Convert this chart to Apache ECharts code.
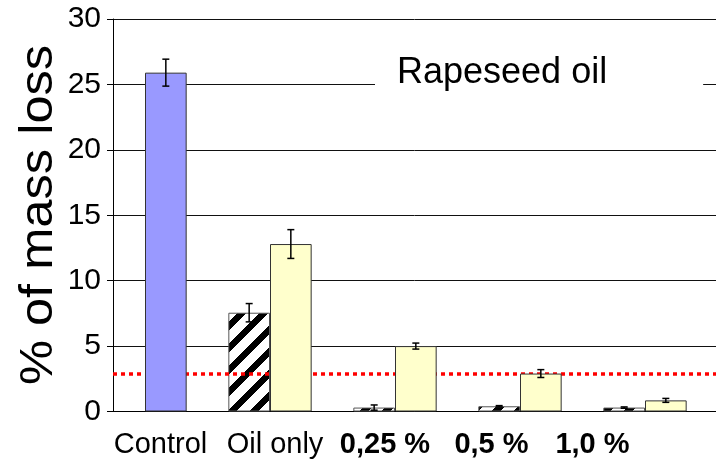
<!DOCTYPE html>
<html><head><meta charset="utf-8">
<script src="https://cdn.jsdelivr.net/npm/echarts@6/dist/echarts.min.js"></script>
<style>html,body{margin:0;padding:0;background:#fff}#c{width:716px;height:472px}</style>
</head><body><div id="c"></div>
<script>
// ---- data ----
const categories = ['Control', 'Oil only', '0,25 %', '0,5 %', '1,0 %'];
const boldCategory = [false, false, true, true, true];
const oilOnlyValues = [null, 7.55, 0.3, 0.4, 0.3];
const oilOnlyErrors = [null, 0.7, 0.2, 0.05, 0.05];
const treatedValues = [25.9, 12.8, 5.0, 2.9, 0.85];
const treatedErrors = [1.03, 1.1, 0.23, 0.3, 0.15];
const thresholdValue = 2.9;
const yMin = 0, yMax = 30, yStep = 5;
const panelTitle = 'Rapeseed oil';
const yAxisTitle = '% of mass loss';

// ---- layout / style ----
const labelPositions = [1.124, 2.04, 2.92, 3.772, 4.58];
const BAR_W = 41.67;
const FONT = 'Liberation Sans, Arial, sans-serif';

function hatchPattern() {
  const P = 22, c = document.createElement('canvas');
  c.width = P; c.height = P;
  const ctx = c.getContext('2d');
  const img = ctx.createImageData(P, P);
  for (let y = 0; y < P; y++) for (let x = 0; x < P; x++) {
    const k = (y * P + x) * 4;
    const black = ((x + y) % P) < 9;
    const v = black ? 0 : 255;
    img.data[k] = v; img.data[k + 1] = v; img.data[k + 2] = v; img.data[k + 3] = 255;
  }
  ctx.putImageData(img, 0, 0);
  return c;
}

const groupX = categories.map((_, i) => i + 1);
const hatchData = [], treatData = [], errData = [];
categories.forEach((_, i) => {
  if (oilOnlyValues[i] != null) {
    hatchData.push([groupX[i], oilOnlyValues[i]]);
    errData.push([groupX[i], oilOnlyValues[i], oilOnlyErrors[i], -1]);
  }
  treatData.push(i === 0
    ? { value: [groupX[i], treatedValues[i]], itemStyle: { color: '#9999ff' } }
    : [groupX[i], treatedValues[i]]);
  errData.push([groupX[i], treatedValues[i], treatedErrors[i], 1]);
});

const chart = echarts.init(document.getElementById('c'), null, { renderer: 'canvas' });
chart.setOption({
  animation: false,
  backgroundColor: '#fff',
  title: {
    text: panelTitle, left: 375, top: 45,
    backgroundColor: '#fff',
    padding: [10, 96, 12, 22],
    textStyle: { fontFamily: FONT, fontSize: 36, fontWeight: 'normal', color: '#000' }
  },
  graphic: [{
    type: 'text', x: 39, y: 215, rotation: Math.PI / 2, scaleX: 1.1,
    style: { text: yAxisTitle, font: '46px "Liberation Sans", Arial, sans-serif', fill: '#000', align: 'center', verticalAlign: 'middle' }
  }],
  grid: { left: 113, right: 0, top: 19, bottom: 60.5, containLabel: false, outerBoundsMode: 'none' },
  xAxis: {
    type: 'value', min: 0.744, max: 5.568,
    splitLine: { show: false },
    axisTick: { show: false },
    axisLine: { show: true, lineStyle: { color: '#000', width: 1 } },
    axisLabel: {
      customValues: labelPositions,
      margin: 19,
      formatter: (v) => {
        let best = 0;
        labelPositions.forEach((p, i) => { if (Math.abs(p - v) < Math.abs(labelPositions[best] - v)) best = i; });
        return boldCategory[best] ? '{b|' + categories[best] + '}' : '{n|' + categories[best] + '}';
      },
      rich: {
        n: { fontFamily: FONT, fontSize: 29, color: '#000' },
        b: { fontFamily: FONT, fontSize: 29, fontWeight: 'bold', color: '#000' }
      }
    }
  },
  yAxis: {
    type: 'value', min: yMin, max: yMax, interval: yStep,
    axisLine: { show: true, lineStyle: { color: '#000', width: 1 } },
    axisTick: { show: true, length: 6, lineStyle: { color: '#000' } },
    axisLabel: { fontFamily: FONT, fontSize: 30, color: '#000', margin: 12 },
    splitLine: { show: true, lineStyle: { color: '#111', width: 1 } }
  },
  series: [
    {
      type: 'bar', name: 'Oil only', data: hatchData, barWidth: BAR_W, barGap: '0%', z: 2,
      itemStyle: { color: { image: hatchPattern(), repeat: 'repeat' }, borderColor: '#555', borderWidth: 1 },
      markLine: {
        z: 3, silent: true, symbol: 'none', label: { show: false },
        lineStyle: { color: '#ff0000', type: [4, 4], width: 3.5 },
        data: [{ yAxis: thresholdValue }]
      }
    },
    {
      type: 'bar', name: 'Treated', data: treatData, barWidth: BAR_W, barGap: '0%', z: 4,
      itemStyle: { color: '#ffffcc', borderColor: '#333', borderWidth: 1 }
    },
    {
      type: 'custom', name: 'errors', data: errData, z: 6,
      renderItem: (params, api) => {
        const x = api.value(0), v = api.value(1), e = api.value(2), s = api.value(3);
        const top = api.coord([x, v + e]), bot = api.coord([x, v - e]);
        const px = top[0] + s * BAR_W / 2;
        const st = { stroke: '#000', lineWidth: 1.5 };
        return {
          type: 'group', children: [
            { type: 'line', shape: { x1: px, y1: top[1], x2: px, y2: bot[1] }, style: st },
            { type: 'line', shape: { x1: px - 3.5, y1: top[1], x2: px + 3.5, y2: top[1] }, style: st },
            { type: 'line', shape: { x1: px - 3.5, y1: bot[1], x2: px + 3.5, y2: bot[1] }, style: st }
          ]
        };
      }
    }
  ]
});
</script></body></html>
